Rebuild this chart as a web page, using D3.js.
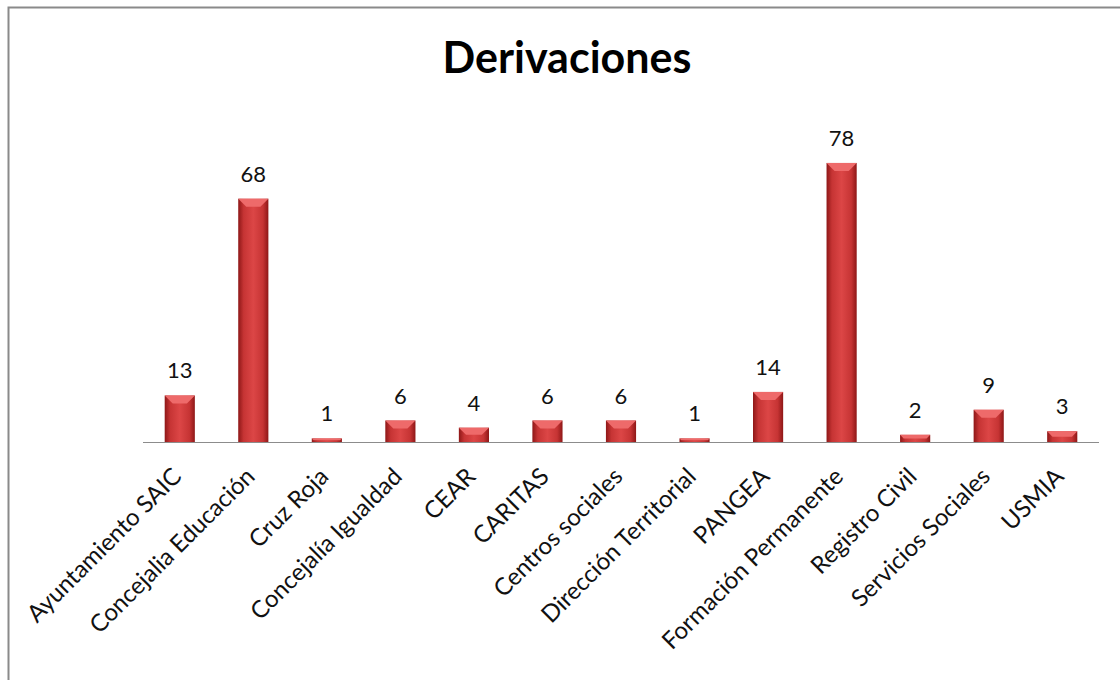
<!DOCTYPE html>
<html>
<head>
<meta charset="utf-8">
<style>
  body { margin: 0; background: #fff; }
  text { font-family: Lato, "Open Sans", sans-serif; }
</style>
<script src="https://d3js.org/d3.v7.min.js"></script>
</head>
<body>
<svg id="svg" width="1120" height="680"></svg>
<script>
  let categories = ["Ayuntamiento SAIC", "Concejalia Educación", "Cruz Roja", "Concejalía Igualdad",
    "CEAR", "CARITAS", "Centros sociales", "Dirección Territorial", "PANGEA",
    "Formación Permanente", "Registro Civil", "Servicios Sociales", "USMIA"];
  let values = [13, 68, 1, 6, 4, 6, 6, 1, 14, 78, 2, 9, 3];
  let chartTitle = "Derivaciones";

  let svg = d3.select("#svg");

  // frame
  svg.append("rect")
    .attr("x", 8.5).attr("y", 7.5)
    .attr("width", 1120).attr("height", 700)
    .attr("fill", "none").attr("stroke", "#8a8a8a").attr("stroke-width", 2);

  let defs = svg.append("defs");
  let grad = defs.append("linearGradient").attr("id", "barGrad")
    .attr("x1", "0%").attr("x2", "100%").attr("y1", "0%").attr("y2", "0%");
  grad.append("stop").attr("offset", "0%").attr("stop-color", "#8e1717");
  grad.append("stop").attr("offset", "18%").attr("stop-color", "#c63434");
  grad.append("stop").attr("offset", "50%").attr("stop-color", "#dc4646");
  grad.append("stop").attr("offset", "82%").attr("stop-color", "#c63434");
  grad.append("stop").attr("offset", "100%").attr("stop-color", "#8e1717");

  let x = d3.scaleBand().domain(categories).range([143, 1099]).paddingInner(0.59).paddingOuter(0.295);
  let y = d3.scaleLinear().domain([0, 90]).range([442, 120]);

  svg.append("text")
    .attr("x", 567).attr("y", 73)
    .attr("text-anchor", "middle")
    .style("font-size", "43px").style("font-weight", "bold")
    .text(chartTitle);

  let bars = svg.append("g").selectAll("g")
    .data(values)
    .enter().append("g");

  bars.append("rect")
    .attr("x", (d, i) => x(categories[i]))
    .attr("y", d => y(d))
    .attr("width", x.bandwidth())
    .attr("height", d => y(0) - y(d))
    .attr("fill", "url(#barGrad)");

  // top bevel
  bars.append("path")
    .attr("d", (d, i) => {
      let x0 = x(categories[i]), w = x.bandwidth(), t = y(d);
      let b = Math.min(8, (y(0) - t) / 2);
      return `M${x0},${t}L${x0 + w},${t}L${x0 + w - b},${t + b}L${x0 + b},${t + b}Z`;
    })
    .attr("fill", "#ee6a6a");

  svg.append("line")
    .attr("x1", 143).attr("x2", 1099)
    .attr("y1", y(0) + 0.5).attr("y2", y(0) + 0.5)
    .attr("stroke", "#8c8c8c").attr("stroke-width", 1.2);

  svg.append("g").selectAll("text")
    .data(values)
    .enter().append("text")
    .attr("x", (d, i) => x(categories[i]) + x.bandwidth() / 2)
    .attr("y", d => y(d) - 17)
    .attr("text-anchor", "middle")
    .style("font-size", "22px")
    .attr("fill", "#111")
    .text(d => d);

  svg.append("g").selectAll("text")
    .data(categories)
    .enter().append("text")
    .attr("transform", d => `translate(${x(d) + x.bandwidth() / 2 + 3},${478}) rotate(-45)`)
    .attr("text-anchor", "end")
    .style("font-size", "24px")
    .attr("fill", "#111")
    .text(d => d);
</script>
</body>
</html>
